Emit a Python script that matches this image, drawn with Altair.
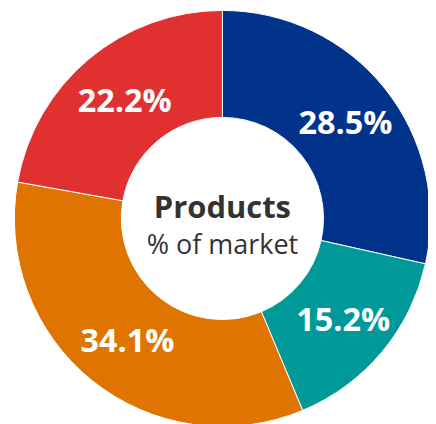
import altair as alt
import pandas as pd

categories = ["Blue", "Teal", "Orange", "Red"]
values = [28.5, 15.2, 34.1, 22.2]
labels = ["28.5%", "15.2%", "34.1%", "22.2%"]
colors = ["#02338A", "#009898", "#E07400", "#E03030"]
order = [1, 2, 3, 4]

df = pd.DataFrame({"cat": categories, "value": values, "label": labels, "ord": order})

CX, CY = 218.5, 210.5
FONT = "Open Sans"

base = alt.Chart(df).encode(
    theta=alt.Theta("value:Q", stack=True),
    order=alt.Order("ord:Q"),
)

arcs = base.mark_arc(outerRadius=212, innerRadius=103, stroke="white", strokeWidth=1).encode(
    color=alt.Color("cat:N", scale=alt.Scale(domain=categories, range=colors), legend=None),
    x=alt.value(CX),
    y=alt.value(CY),
)

text = base.mark_text(radius=158, font=FONT, fontSize=33, fontWeight="bold", color="white",
                      align="center", baseline="middle").encode(
    text="label:N",
    x=alt.value(CX + 2),
    y=alt.value(CY + 3),
)

t1 = alt.Chart(pd.DataFrame({"t": ["Products"]})).mark_text(
    font=FONT, fontSize=31.5, fontWeight="bold", color="#333333", align="center", baseline="alphabetic"
).encode(text="t:N", x=alt.value(CX), y=alt.value(CY - 0.5))

t2 = alt.Chart(pd.DataFrame({"t": ["% of market"]})).mark_text(
    font=FONT, fontSize=27.5, color="#333333", align="center", baseline="alphabetic"
).encode(text="t:N", x=alt.value(CX), y=alt.value(CY + 36))

chart = alt.layer(arcs, text, t1, t2).properties(
    width=428, height=416, padding=0, autosize=alt.AutoSizeParams(type="none")
).configure_view(stroke=None)

chart.save("out.html", embed_options={"renderer": "svg", "actions": False})
